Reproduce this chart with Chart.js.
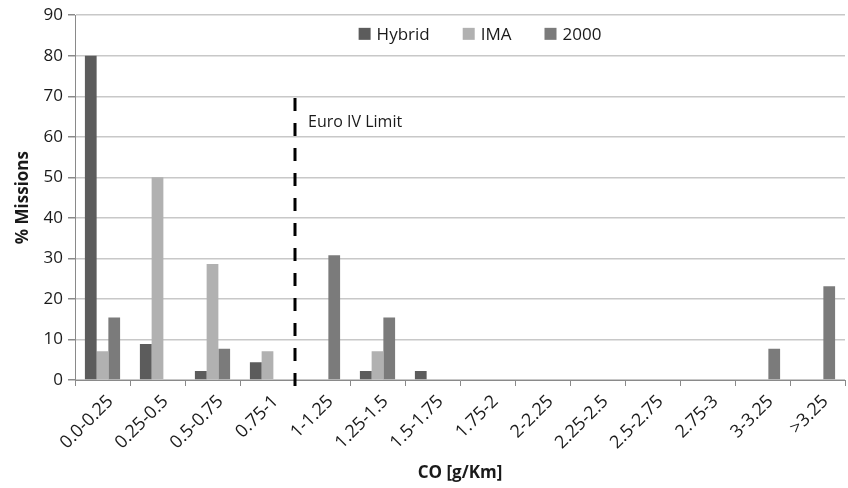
<!DOCTYPE html>
<html>
<head>
<meta charset="utf-8">
<script src="https://cdn.jsdelivr.net/npm/chart.js@4/dist/chart.umd.min.js"></script>
<style>
html,body{margin:0;padding:0;background:#fff;}
#wrap{width:848px;height:488px;}
</style>
</head>
<body>
<div id="wrap"><canvas id="c" width="848" height="488"></canvas></div>
<script>
const categories = ["0.0-0.25","0.25-0.5","0.5-0.75","0.75-1","1-1.25","1.25-1.5","1.5-1.75","1.75-2","2-2.25","2.25-2.5","2.5-2.75","2.75-3","3-3.25",">3.25"];
const hybrid = [80, 8.9, 2.2, 4.4, 0, 2.2, 2.2, 0, 0, 0, 0, 0, 0, 0];
const ima    = [7.1, 50, 28.6, 7.1, 0, 7.1, 0, 0, 0, 0, 0, 0, 0, 0];
const y2000  = [15.4, 0, 7.7, 0, 30.8, 15.4, 0, 0, 0, 0, 0, 0, 7.7, 23.1];
const seriesNames = ["Hybrid", "IMA", "2000"];
const yTicks = [0,10,20,30,40,50,60,70,80,90];
const limitPosition = 3.5;   // between "0.75-1" and "1-1.25"
const limitTop = 70;
const limitLabel = "Euro IV Limit";
const xTitle = "CO [g/Km]";
const yTitle = "% Missions";

const colors = ["#5c5c5c", "#b1b1b1", "#7b7b7b"];
const FONT = "'Open Sans', 'DejaVu Sans', sans-serif";

const limitPlugin = {
  id: 'limit',
  afterDatasetsDraw(chart) {
    const {ctx, scales: {x, y}} = chart;
    const px = Math.round(x.getPixelForValue(limitPosition));
    ctx.save();
    ctx.strokeStyle = '#000';
    ctx.lineWidth = 3;
    ctx.setLineDash([13, 12]);
    ctx.beginPath();
    ctx.moveTo(px, y.getPixelForValue(0) + 6);
    ctx.lineTo(px, y.getPixelForValue(limitTop));
    ctx.stroke();
    ctx.setLineDash([]);
    ctx.fillStyle = '#1a1a1a';
    ctx.font = "16px " + FONT;
    ctx.textBaseline = 'middle';
    ctx.textAlign = 'left';
    ctx.fillText(limitLabel, px + 13, y.getPixelForValue(63.5));
    ctx.restore();
  }
};

const legendPlugin = {
  id: 'customLegend',
  afterDraw(chart) {
    const {ctx, chartArea, scales: {y}} = chart;
    ctx.save();
    ctx.font = "17px " + FONT;
    ctx.textBaseline = 'middle';
    const box = 12, gapText = 6, gapItem = 33;
    const items = chart.data.datasets.map(d => ({label: d.label, color: d.backgroundColor, w: ctx.measureText(d.label).width}));
    let total = 0;
    items.forEach((it, i) => { total += box + gapText + it.w + (i < items.length - 1 ? gapItem : 0); });
    let xPos = (chartArea.left + chartArea.right) / 2 + 20 - total / 2;
    const yMid = y.getPixelForValue(85.4);
    items.forEach(it => {
      ctx.fillStyle = it.color;
      ctx.fillRect(xPos, yMid - box / 2, box, box);
      xPos += box + gapText;
      ctx.fillStyle = '#1a1a1a';
      ctx.fillText(it.label, xPos, yMid + 1);
      xPos += it.w + gapItem;
    });
    ctx.restore();
  }
};

new Chart(document.getElementById('c'), {
  type: 'bar',
  data: {
    labels: categories,
    datasets: [
      {label: seriesNames[0], data: hybrid, backgroundColor: colors[0]},
      {label: seriesNames[1], data: ima, backgroundColor: colors[1]},
      {label: seriesNames[2], data: y2000, backgroundColor: colors[2]}
    ]
  },
  options: {
    responsive: false,
    animation: false,
    devicePixelRatio: 1,
    layout: {padding: {top: 15, right: 3, left: 0, bottom: 0}},
    datasets: {bar: {categoryPercentage: 0.64, barPercentage: 1.0}},
    plugins: {legend: {display: false}, tooltip: {enabled: false}},
    scales: {
      x: {
        offset: true,
        grid: {offset: true, drawOnChartArea: false, drawTicks: true, tickLength: 6, tickColor: '#8a8a8a'},
        border: {color: '#8a8a8a', width: 1},
        ticks: {maxRotation: 45, minRotation: 45, autoSkip: false, color: '#1a1a1a', font: {family: FONT, size: 18}, padding: 5, labelOffset: 8},
        title: {display: true, text: xTitle, color: '#1a1a1a', font: {family: FONT, size: 17, weight: 'bold'}, padding: {top: 0, bottom: 5}},
        afterFit(s) { s.height = 108; }
      },
      y: {
        min: 0, max: 90,
        afterBuildTicks(s) { s.ticks = yTicks.map(v => ({value: v})); },
        grid: {color: '#c8c8c8', lineWidth: 1.5, tickLength: 7, tickColor: '#8a8a8a'},
        border: {color: '#8a8a8a', width: 1},
        ticks: {color: '#1a1a1a', font: {family: FONT, size: 17}, padding: 5},
        title: {display: true, text: yTitle, color: '#1a1a1a', font: {family: FONT, size: 17, weight: 'bold'}, padding: {top: 13, bottom: 0}},
        afterFit(s) { s.width = 75; }
      }
    }
  },
  plugins: [limitPlugin, legendPlugin]
});
</script>
</body>
</html>
